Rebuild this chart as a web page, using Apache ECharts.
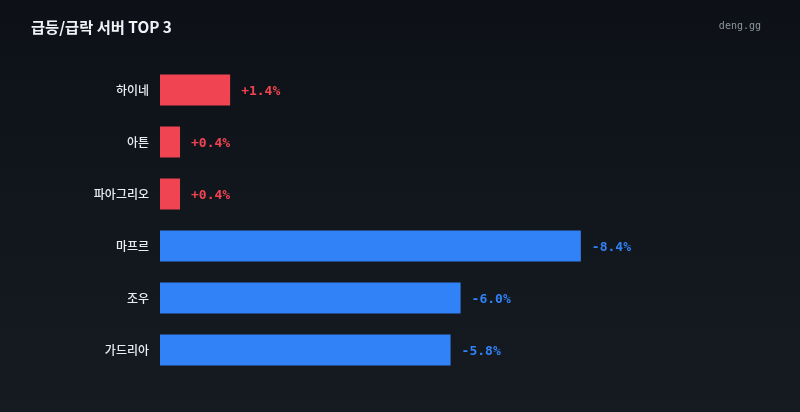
<!DOCTYPE html>
<html>
<head>
<meta charset="utf-8">
<script src="https://cdn.jsdelivr.net/npm/echarts@6/dist/echarts.min.js"></script>
<style>
html,body{margin:0;padding:0;}
#c{width:800px;height:412px;background:linear-gradient(180deg,#0d1117 0%,#161b22 100%);}
</style>
</head>
<body>
<div id="c"></div>
<script>
const titleText = '급등/급락 서버 TOP 3';
const brandText = 'deng.gg';
const categories = ['하이네', '아튼', '파아그리오', '마프르', '조우', '가드리아'];
const changes = [1.4, 0.4, 0.4, -8.4, -6.0, -5.8];
const upColor = '#f04452';
const downColor = '#3182f6';

const chart = echarts.init(document.getElementById('c'), null, {renderer: 'canvas'});
chart.setOption({
  backgroundColor: 'transparent',
  animation: false,
  title: [
    {text: titleText, left: 31, top: 20, padding: 0,
     textStyle: {color: '#f0f3f6', fontSize: 15.3, fontWeight: 'bold', fontFamily: '"Noto Sans CJK KR", "Noto Sans", sans-serif'}},
    {text: brandText, right: 39, top: 21, padding: 0,
     textStyle: {color: '#8b949e', fontSize: 10, fontWeight: 'normal', fontFamily: '"DejaVu Sans Mono", monospace'}}
  ],
  grid: {left: 160, right: 139, top: 64, bottom: 36, containLabel: false},
  xAxis: {type: 'value', min: 0, max: 10, show: false},
  yAxis: {
    type: 'category', data: categories, inverse: true,
    axisLine: {show: false}, axisTick: {show: false},
    axisLabel: {color: '#e6edf3', fontSize: 12, margin: 11, fontWeight: 500,
                padding: [4, 0, 0, 0],
                fontFamily: '"Noto Sans CJK KR", sans-serif'}
  },
  series: [{
    type: 'bar',
    barWidth: 31,
    data: changes.map(v => ({
      value: Math.abs(v),
      itemStyle: {color: v >= 0 ? upColor : downColor},
      label: {color: v >= 0 ? upColor : downColor}
    })),
    label: {
      show: true, position: 'right', distance: 11, offset: [0, 2],
      fontSize: 13, fontWeight: 'bold',
      fontFamily: '"DejaVu Sans Mono", monospace',
      formatter: p => {
        const v = changes[p.dataIndex];
        return (v >= 0 ? '+' : '-') + Math.abs(v).toFixed(1) + '%';
      }
    }
  }]
});
</script>
</body>
</html>
